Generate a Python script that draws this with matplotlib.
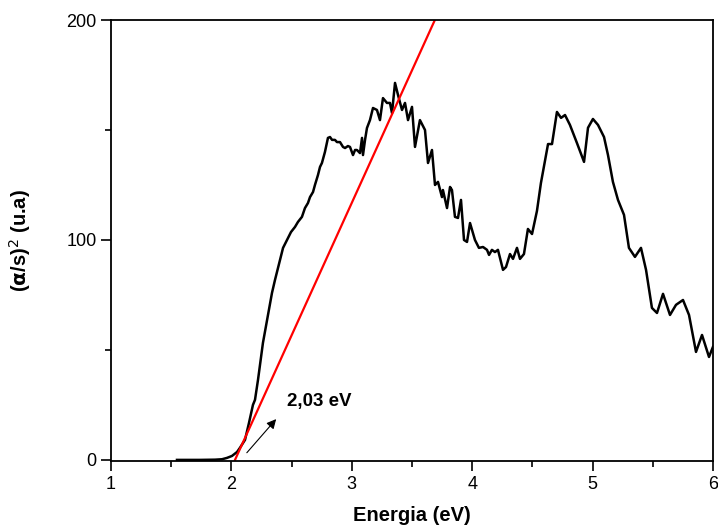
import numpy as np
import matplotlib
matplotlib.use("Agg")
import matplotlib.pyplot as plt
from matplotlib.ticker import MultipleLocator

plt.rcParams['font.family'] = ['Liberation Sans', 'DejaVu Sans']

# spectrum: energy (eV) and (alpha/s)^2 (u.a)
energy = [1.548, 1.739, 1.864, 1.922, 1.963, 2.005, 2.047, 2.071, 2.113, 2.146,
          2.179, 2.196, 2.221, 2.262, 2.296, 2.337, 2.362, 2.387, 2.404, 2.429,
          2.470, 2.495, 2.528, 2.553, 2.586, 2.611, 2.636, 2.653, 2.678, 2.694,
          2.719, 2.736, 2.752, 2.777, 2.802, 2.819, 2.836, 2.860, 2.877, 2.902,
          2.927, 2.944, 2.968, 2.985, 3.010, 3.027, 3.043, 3.068, 3.085, 3.093,
          3.110, 3.126, 3.151, 3.176, 3.209, 3.234, 3.259, 3.292, 3.317, 3.334,
          3.359, 3.384, 3.417, 3.442, 3.467, 3.500, 3.525, 3.566, 3.608, 3.633,
          3.666, 3.691, 3.716, 3.749, 3.757, 3.791, 3.816, 3.832, 3.857, 3.882,
          3.907, 3.932, 3.957, 3.982, 4.023, 4.056, 4.090, 4.123, 4.140, 4.164,
          4.189, 4.214, 4.256, 4.281, 4.314, 4.339, 4.372, 4.397, 4.430, 4.463,
          4.497, 4.538, 4.571, 4.630, 4.663, 4.704, 4.738, 4.771, 4.812, 4.870,
          4.929, 4.962, 5.003, 5.045, 5.095, 5.128, 5.169, 5.211, 5.261, 5.302,
          5.352, 5.402, 5.444, 5.493, 5.535, 5.585, 5.643, 5.693, 5.751, 5.801,
          5.859, 5.909, 5.967, 6.000]
absorb = [0.0, 0.0, 0.1, 0.3, 0.9, 1.8, 3.6, 5.5, 9.1, 16.8,
          25.0, 27.3, 36.4, 53.2, 63.6, 75.9, 81.8, 87.3, 90.9, 96.4,
          100.9, 103.6, 105.9, 108.2, 110.5, 114.5, 116.8, 119.5, 121.8, 125.0,
          129.5, 133.2, 135.0, 140.0, 146.4, 146.8, 145.5, 145.5, 144.5, 144.5,
          142.3, 141.8, 142.7, 142.3, 138.6, 140.9, 140.9, 139.5, 146.4, 138.6,
          145.5, 150.9, 154.5, 160.0, 159.1, 154.5, 164.5, 162.3, 162.3, 157.7,
          171.4, 165.9, 159.1, 162.3, 154.5, 160.5, 142.3, 154.5, 150.0, 135.0,
          140.9, 125.0, 126.4, 119.5, 122.7, 114.5, 124.1, 122.7, 110.5, 110.0,
          118.2, 100.0, 99.1, 107.7, 100.0, 96.4, 96.8, 95.5, 93.2, 95.5,
          94.5, 95.5, 86.4, 87.7, 93.6, 91.4, 96.4, 91.4, 93.6, 105.0,
          102.7, 113.2, 125.9, 143.6, 143.6, 158.2, 155.5, 156.8, 152.3, 144.1,
          135.5, 151.0, 155.0, 152.3, 146.8, 138.6, 126.4, 118.2, 111.4, 96.4,
          92.3, 96.4, 86.4, 69.1, 66.8, 75.5, 65.9, 70.5, 72.7, 65.9,
          49.1, 56.8, 46.8, 51.4]

# linear fit (Tauc extrapolation) end points
fit_x = [2.03, 3.69]
fit_y = [0, 200]
gap_label = "2,03 eV"

fig = plt.figure(figsize=(7.18, 5.28), dpi=100)
ax = fig.add_axes([0.1546, 0.1269, 0.8384, 0.8352])

ax.plot(energy, absorb, color='black', lw=1.8)
ax.plot(fit_x, fit_y, color='#ff0000', lw=1.6)

ax.annotate('', xy=(2.387, 19.5), xytext=(2.113, 2.3),
            arrowprops=dict(arrowstyle='-|>', color='black', lw=0.8,
                            mutation_scale=14))
ax.text(2.46, 26.4, gap_label, fontsize=13.5, fontweight='bold', va='center')

ax.set_xlim(1, 6)
ax.set_ylim(-0.5, 200)
ax.set_xticks([1, 2, 3, 4, 5, 6])
ax.set_yticks([0, 100, 200])
ax.xaxis.set_minor_locator(MultipleLocator(0.5))
ax.yaxis.set_minor_locator(MultipleLocator(50))
ax.tick_params(which='major', direction='out', length=7, width=1.2,
               labelsize=13, top=False, right=False)
ax.tick_params(which='minor', direction='out', length=4, width=1.2,
               top=False, right=False)
for s in ax.spines.values():
    s.set_linewidth(1.3)

ax.set_xlabel('Energia (eV)', fontsize=14.5, fontweight='bold', labelpad=10)
ax.set_ylabel(r'($\mathbf{\alpha}$/s)$^\mathrm{2}$ (u.a)', fontsize=14.5,
              fontweight='bold', labelpad=24)

fig.savefig('out.png', dpi=100)
